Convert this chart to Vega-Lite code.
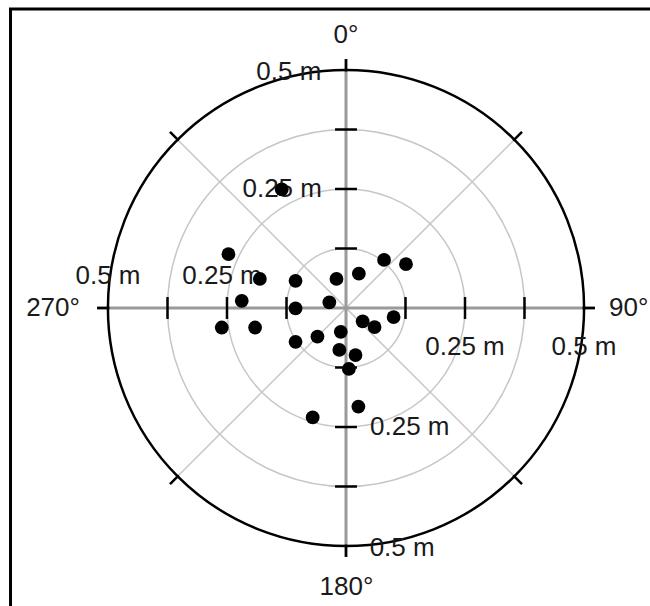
{
  "$schema": "https://vega.github.io/schema/vega-lite/v6.json",
  "width": 560,
  "height": 560,
  "autosize": {"type": "none"},
  "padding": {"left": 66, "top": 28, "right": 24, "bottom": 18},
  "background": "white",
  "config": {"view": {"stroke": null}, "axis": {"disable": true}},
  "datasets": {
    "rings": [{"r": 0.125}, {"r": 0.25}, {"r": 0.375}],
    "outer": [{"r": 0.5}],
    "diagonals": [
      {"x1": -0.3536, "y1": -0.3536, "x2": 0.3536, "y2": 0.3536},
      {"x1": -0.3536, "y1": 0.3536, "x2": 0.3536, "y2": -0.3536}
    ],
    "axes": [
      {"x1": 0, "y1": -0.523, "x2": 0, "y2": 0.523},
      {"x1": -0.523, "y1": 0, "x2": 0.523, "y2": 0}
    ],
    "ticks": [
      {"x1": -0.023, "y1": 0.125, "x2": 0.023, "y2": 0.125},
      {"x1": -0.023, "y1": 0.25, "x2": 0.023, "y2": 0.25},
      {"x1": -0.023, "y1": 0.375, "x2": 0.023, "y2": 0.375},
      {"x1": -0.023, "y1": -0.125, "x2": 0.023, "y2": -0.125},
      {"x1": -0.023, "y1": -0.25, "x2": 0.023, "y2": -0.25},
      {"x1": -0.023, "y1": -0.375, "x2": 0.023, "y2": -0.375},
      {"x1": 0.125, "y1": -0.023, "x2": 0.125, "y2": 0.023},
      {"x1": 0.25, "y1": -0.023, "x2": 0.25, "y2": 0.023},
      {"x1": 0.375, "y1": -0.023, "x2": 0.375, "y2": 0.023},
      {"x1": -0.125, "y1": -0.023, "x2": -0.125, "y2": 0.023},
      {"x1": -0.25, "y1": -0.023, "x2": -0.25, "y2": 0.023},
      {"x1": -0.375, "y1": -0.023, "x2": -0.375, "y2": 0.023},
      {"x1": 0, "y1": 0.497, "x2": 0, "y2": 0.523},
      {"x1": 0, "y1": -0.497, "x2": 0, "y2": -0.523},
      {"x1": 0.497, "y1": 0, "x2": 0.523, "y2": 0},
      {"x1": -0.497, "y1": 0, "x2": -0.523, "y2": 0},
      {"x1": 0.3514, "y1": 0.3514, "x2": 0.3698, "y2": 0.3698},
      {"x1": -0.3514, "y1": 0.3514, "x2": -0.3698, "y2": 0.3698},
      {"x1": 0.3514, "y1": -0.3514, "x2": 0.3698, "y2": -0.3698},
      {"x1": -0.3514, "y1": -0.3514, "x2": -0.3698, "y2": -0.3698}
    ],
    "frame": [{"x1": -0.7048, "y1": 0.628, "x2": 0.67, "y2": -0.666}],
    "labels": [
      {"x": 0, "y": 0.5735, "label": "0°"},
      {"x": 0.001, "y": -0.586, "label": "180°"},
      {"x": -0.6155, "y": 0, "label": "270°"},
      {"x": 0.594, "y": 0, "label": "90°"},
      {"x": -0.5, "y": 0.067, "label": "0.5 m"},
      {"x": -0.2605, "y": 0.067, "label": "0.25 m"},
      {"x": 0.25, "y": -0.082, "label": "0.25 m"},
      {"x": 0.5, "y": -0.082, "label": "0.5 m"},
      {"x": -0.12, "y": 0.496, "label": "0.5 m"},
      {"x": -0.134, "y": 0.25, "label": "0.25 m"},
      {"x": 0.134, "y": -0.25, "label": "0.25 m"},
      {"x": 0.118, "y": -0.504, "label": "0.5 m"}
    ],
    "points": [
      {"x": -0.135, "y": 0.249},
      {"x": -0.247, "y": 0.113},
      {"x": -0.181, "y": 0.061},
      {"x": -0.219, "y": 0.015},
      {"x": -0.261, "y": -0.041},
      {"x": -0.191, "y": -0.041},
      {"x": -0.106, "y": 0.057},
      {"x": -0.106, "y": -0.001},
      {"x": -0.035, "y": 0.012},
      {"x": -0.02, "y": 0.061},
      {"x": 0.027, "y": 0.072},
      {"x": 0.08, "y": 0.101},
      {"x": 0.126, "y": 0.092},
      {"x": 0.1, "y": -0.019},
      {"x": 0.035, "y": -0.028},
      {"x": 0.06, "y": -0.04},
      {"x": -0.011, "y": -0.05},
      {"x": -0.06, "y": -0.06},
      {"x": -0.106, "y": -0.071},
      {"x": -0.014, "y": -0.088},
      {"x": 0.02, "y": -0.099},
      {"x": 0.006, "y": -0.128},
      {"x": 0.026, "y": -0.207},
      {"x": -0.07, "y": -0.23}
    ]
  },
  "layer": [
    {
      "data": {"name": "frame"},
      "mark": {"type": "rect", "fill": null, "filled": false, "stroke": "black", "strokeWidth": 3},
      "encoding": {
        "x": {"field": "x1", "type": "quantitative", "scale": {"domain": [-0.58824, 0.58824], "nice": false, "zero": false}, "axis": null},
        "x2": {"field": "x2"},
        "y": {"field": "y1", "type": "quantitative", "scale": {"domain": [-0.58824, 0.58824], "nice": false, "zero": false}, "axis": null},
        "y2": {"field": "y2"}
      }
    },
    {
      "data": {"name": "rings"},
      "mark": {"type": "arc", "filled": false, "stroke": "#c6c6c6", "strokeWidth": 1.5, "theta": 0, "theta2": 6.2832},
      "encoding": {
        "x": {"datum": 0, "type": "quantitative", "axis": null},
        "y": {"datum": 0, "type": "quantitative", "axis": null},
        "radius": {"field": "r", "type": "quantitative", "stack": null, "scale": {"type": "linear", "domain": [0, 0.58824], "range": [0, 280], "zero": true, "nice": false}, "legend": null}
      }
    },
    {
      "data": {"name": "diagonals"},
      "mark": {"type": "rule", "stroke": "#c6c6c6", "strokeWidth": 1.5},
      "encoding": {
        "x": {"field": "x1", "type": "quantitative", "axis": null},
        "y": {"field": "y1", "type": "quantitative", "axis": null},
        "x2": {"field": "x2"},
        "y2": {"field": "y2"}
      }
    },
    {
      "data": {"name": "axes"},
      "mark": {"type": "rule", "stroke": "#9a9a9a", "strokeWidth": 3},
      "encoding": {
        "x": {"field": "x1", "type": "quantitative", "axis": null},
        "y": {"field": "y1", "type": "quantitative", "axis": null},
        "x2": {"field": "x2"},
        "y2": {"field": "y2"}
      }
    },
    {
      "data": {"name": "outer"},
      "mark": {"type": "arc", "filled": false, "stroke": "black", "strokeWidth": 2.5, "theta": 0, "theta2": 6.2832},
      "encoding": {
        "x": {"datum": 0, "type": "quantitative", "axis": null},
        "y": {"datum": 0, "type": "quantitative", "axis": null},
        "radius": {"field": "r", "type": "quantitative", "stack": null, "legend": null}
      }
    },
    {
      "data": {"name": "ticks"},
      "mark": {"type": "rule", "stroke": "black", "strokeWidth": 2.5},
      "encoding": {
        "x": {"field": "x1", "type": "quantitative", "axis": null},
        "y": {"field": "y1", "type": "quantitative", "axis": null},
        "x2": {"field": "x2"},
        "y2": {"field": "y2"}
      }
    },
    {
      "data": {"name": "labels"},
      "mark": {"type": "text", "font": "Liberation Sans", "fontSize": 26, "align": "center", "baseline": "middle", "color": "#1a1a1a"},
      "encoding": {
        "x": {"field": "x", "type": "quantitative", "axis": null},
        "y": {"field": "y", "type": "quantitative", "axis": null},
        "text": {"field": "label"}
      }
    },
    {
      "data": {"name": "points"},
      "mark": {"type": "point", "shape": "circle", "filled": true, "color": "black", "size": 190, "opacity": 1, "strokeWidth": 0},
      "encoding": {
        "x": {"field": "x", "type": "quantitative", "axis": null},
        "y": {"field": "y", "type": "quantitative", "axis": null}
      }
    }
  ]
}
